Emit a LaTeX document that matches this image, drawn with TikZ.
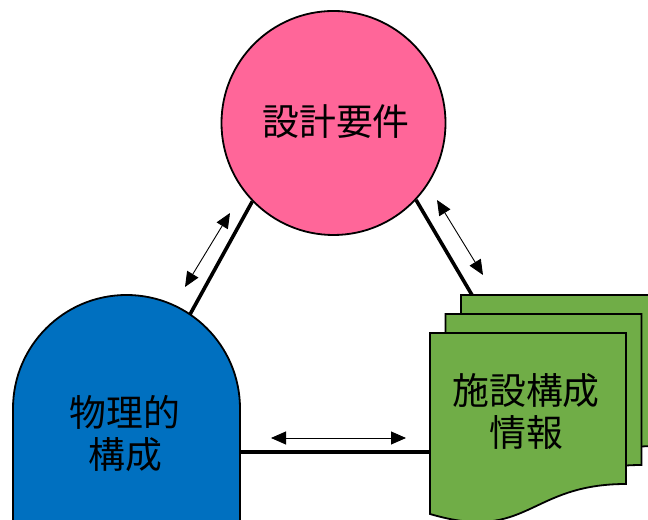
\documentclass[tikz,border=0pt]{standalone}
\usepackage{fontspec}
\newfontfamily\jp{Noto Sans CJK JP}
\usetikzlibrary{arrows.meta}
\definecolor{reqpink}{RGB}{255,102,153}
\definecolor{physblue}{RGB}{0,112,192}
\definecolor{docgreen}{RGB}{112,173,71}
\tikzset{
  shapeline/.style={draw=black, line width=1.8bp},
  link/.style={line width=3.6bp},
  relarrow/.style={line width=0.9bp, {Triangle[length=15bp,width=13bp]}-{Triangle[length=15bp,width=13bp]}},
  jplabel/.style={font=\jp\fontsize{37}{43}\selectfont, align=center, text=black, inner sep=0pt}
}
\newcommand{\docsheet}[2]{%
  \path[shapeline, fill=docgreen, shift={(#1,#2)}]
    (430,187) -- (626,187) -- (626,36)
    .. controls (528,36) and (528,-23) .. (430,6) -- cycle;}
\begin{document}
\begin{tikzpicture}[x=1bp,y=1bp]
\useasboundingbox (0,0) rectangle (648,520);
\clip (0,0) rectangle (648,520);
% documents
\docsheet{31}{38}
\docsheet{15.5}{19}
\docsheet{0}{0}
\node[jplabel] (doc) at (526,108.5) {施設構成\\情報};
% physical
\path[shapeline, fill=physblue] (13,-10) -- (13,111.5) arc[start angle=180, end angle=0, radius=113.5] -- (240,-10) -- cycle;
\node[jplabel] (phys) at (125,86.5) {物理的\\構成};
% requirement circle
\node[circle, shapeline, fill=reqpink, minimum size=224bp, inner sep=0pt] (req) at (333.5,397) {};
\node[jplabel] (reqtext) at (336,398) {設計要件};
% anchor points on shapes
\coordinate (physTop) at (190,205.6);
\coordinate (physRight) at (240,68);
\coordinate (docLeft) at (430,68);
\coordinate (docTop) at (472,225);
% links
\draw[link] (req.-136) -- (physTop);
\draw[link] (req.-43) -- (docTop);
\draw[link] (physRight) -- (docLeft);
% relation arrows
\coordinate (a1s) at (230,307); \coordinate (a1e) at (185,233);
\coordinate (a2s) at (437,320); \coordinate (a2e) at (483,245);
\coordinate (a3s) at (271,82);  \coordinate (a3e) at (406,82);
\draw[relarrow] (a1s) -- (a1e);
\draw[relarrow] (a2s) -- (a2e);
\draw[relarrow] (a3s) -- (a3e);
\end{tikzpicture}
\end{document}
